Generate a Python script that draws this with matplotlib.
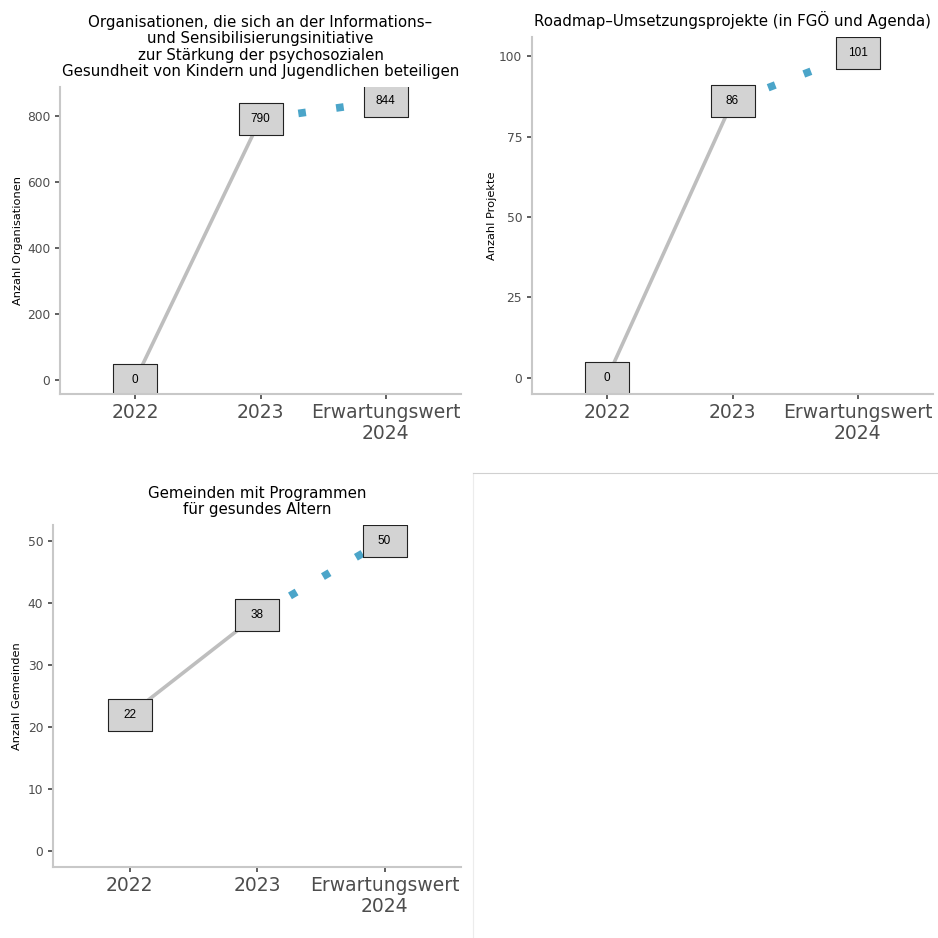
import matplotlib
matplotlib.use('Agg')
import matplotlib.pyplot as plt
from matplotlib.ticker import MultipleLocator

#==============================================
# data

categories = ['2022', '2023', 'Erwartungswert\n2024']

org_values = [0, 790, 844]
proj_values = [0, 86, 101]
gem_values = [22, 38, 50]

titles = ['Organisationen, die sich an der Informations–\nund Sensibilisierungsinitiative\nzur Stärkung der psychosozialen\nGesundheit von Kindern und Jugendlichen beteiligen',
          'Roadmap–Umsetzungsprojekte (in FGÖ und Agenda)',
          'Gemeinden mit Programmen\nfür gesundes Altern']
ylabels = ['Anzahl Organisationen', 'Anzahl Projekte', 'Anzahl Gemeinden']
tick_steps = [200, 25, 10]

#==============================================

plt.rcParams['font.family'] = 'DejaVu Sans'

fig = plt.figure(figsize=(9.38, 9.38), dpi=100)

W = 938.0
def box(left, right, top, bottom):
    return [left / W, 1 - bottom / W, (right - left) / W, (bottom - top) / W]

axes = [fig.add_axes(box(60, 461, 87, 394)),
        fig.add_axes(box(532, 933, 37, 394)),
        fig.add_axes(box(53, 461, 525, 867))]
label_x = [-0.092, -0.087, -0.076]

# rectangle marker for the value labels (44 x 32 px)
rect = [(-22, -16), (22, -16), (22, 16), (-22, 16), (-22, -16)]

def draw_panel(ax, values, title, ylabel, step, lx):
    x = list(range(len(categories)))
    ax.plot(x[:2], values[:2], color='#bebebe', lw=2.6, solid_capstyle='butt', zorder=1)
    ax.plot(x[1:], values[1:], color='#4ba5c9', lw=5.5, linestyle=(0, (1, 4)),
            dash_capstyle='butt', zorder=1)
    ax.plot(x, values, linestyle='none', marker=rect, markersize=31.7,
            markerfacecolor='#d3d3d3', markeredgecolor='#222222', markeredgewidth=0.8, zorder=2)
    for xi, v in zip(x, values):
        ax.text(xi, v, str(v), ha='center', va='center', fontsize=8.5,
                family='Liberation Sans', color='black', zorder=3)

    lo = min(0, min(values))
    hi = max(values)
    pad = 0.05 * (hi - lo)
    ax.set_ylim(lo - pad, hi + pad)
    ax.set_xlim(-0.6, len(categories) - 0.4)
    ax.yaxis.set_major_locator(MultipleLocator(step))
    ax.set_xticks(x)
    ax.set_xticklabels(categories, fontsize=13.5, color='#4d4d4d', linespacing=1.1)
    ax.tick_params(axis='y', labelsize=8.8, labelcolor='#4d4d4d', length=3.6, width=1.1,
                   color='#333333', pad=3.5)
    ax.tick_params(axis='x', length=3.6, width=1.1, color='#333333', pad=3)

    for s in ['top', 'right']:
        ax.spines[s].set_visible(False)
    for s in ['left', 'bottom']:
        ax.spines[s].set_color('#c8c8c8')
        ax.spines[s].set_linewidth(1.5)

    ax.set_title(title, fontsize=10.8, color='black', pad=8, linespacing=1.1)
    ax.set_ylabel(ylabel, fontsize=8.2, color='black')
    ax.yaxis.set_label_coords(lx, 0.5)

draw_panel(axes[0], org_values, titles[0], ylabels[0], tick_steps[0], label_x[0])
draw_panel(axes[1], proj_values, titles[1], ylabels[1], tick_steps[1], label_x[1])
draw_panel(axes[2], gem_values, titles[2], ylabels[2], tick_steps[2], label_x[2])

# empty fourth slot with faint frame
empty = fig.add_axes(box(473, 938, 473, 938))
empty.set_xticks([])
empty.set_yticks([])
for s in ['right', 'bottom']:
    empty.spines[s].set_visible(False)
empty.spines['top'].set_color('#d0d0d0')
empty.spines['left'].set_color('#ececec')
empty.patch.set_alpha(0)

plt.savefig('out.png', dpi=100)
